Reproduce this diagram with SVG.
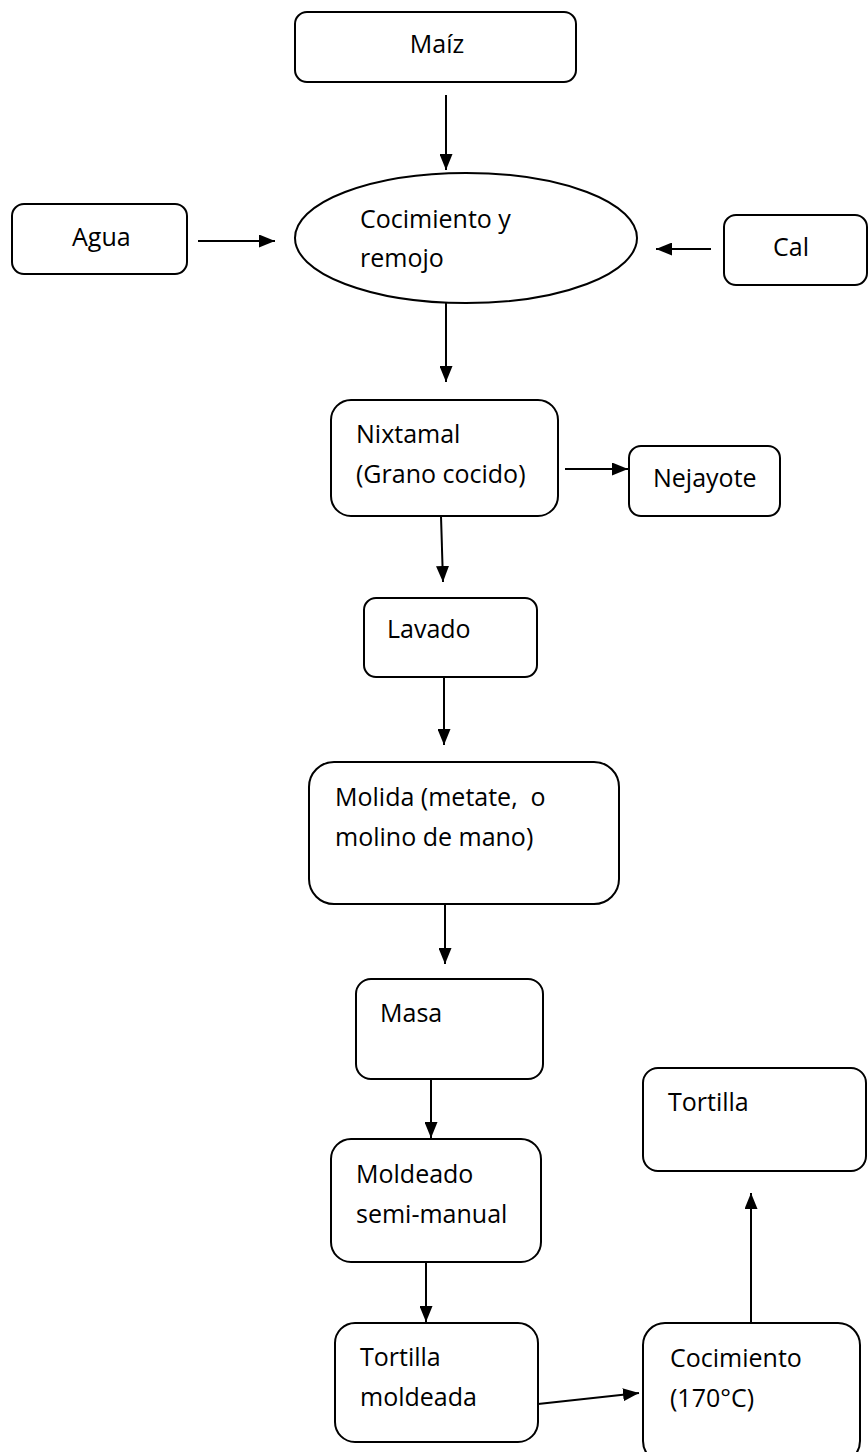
<svg xmlns="http://www.w3.org/2000/svg" width="868" height="1452" viewBox="0 0 868 1452">
<style>
.box{fill:#fff;stroke:#000;stroke-width:2}
.t{font-family:"Open Sans","Liberation Sans",sans-serif;font-size:25px;fill:#000}
.c{stroke:#000;stroke-width:2;fill:none;marker-end:url(#ah)}
</style>
<defs>
<marker id="ah" markerUnits="userSpaceOnUse" markerWidth="16" markerHeight="13" refX="16" refY="6.5" orient="auto">
<path d="M0,0 L16,6.5 L0,13 Z" fill="#000"/>
</marker>
</defs>
<rect width="868" height="1452" fill="#fff"/>
<g id="maiz"><rect class="box" x="295" y="12" width="281" height="70" rx="12"/><text class="t" x="437" y="53" text-anchor="middle">Maíz</text></g>
<g id="agua"><rect class="box" x="12" y="204" width="175" height="70" rx="12"/><text class="t" x="72" y="246">Agua</text></g>
<g id="cocimiento-remojo"><ellipse class="box" cx="466" cy="238" rx="171" ry="65"/><text class="t" x="360" y="228">Cocimiento y</text><text class="t" x="360" y="267">remojo</text></g>
<g id="cal"><rect class="box" x="724" y="215" width="143" height="70" rx="12"/><text class="t" x="773" y="256">Cal</text></g>
<g id="nixtamal"><rect class="box" x="331" y="400" width="227" height="116" rx="20"/><text class="t" x="356" y="443">Nixtamal</text><text class="t" x="356" y="483">(Grano cocido)</text></g>
<g id="nejayote"><rect class="box" x="629" y="446" width="151" height="70" rx="12"/><text class="t" x="653" y="487">Nejayote</text></g>
<g id="lavado"><rect class="box" x="364" y="598" width="173" height="79" rx="12"/><text class="t" x="387" y="638">Lavado</text></g>
<g id="molida"><rect class="box" x="309" y="762" width="310" height="142" rx="25"/><text class="t" x="335" y="806" xml:space="preserve">Molida (metate,  o</text><text class="t" x="335" y="846">molino de mano)</text></g>
<g id="masa"><rect class="box" x="356" y="979" width="187" height="100" rx="15"/><text class="t" x="380" y="1022">Masa</text></g>
<g id="tortilla"><rect class="box" x="643" y="1068" width="223" height="103" rx="15"/><text class="t" x="668" y="1111">Tortilla</text></g>
<g id="moldeado"><rect class="box" x="331" y="1139" width="210" height="123" rx="20"/><text class="t" x="356" y="1183">Moldeado</text><text class="t" x="356" y="1223">semi-manual</text></g>
<g id="tortilla-moldeada"><rect class="box" x="335" y="1323" width="203" height="119" rx="20"/><text class="t" x="360" y="1366">Tortilla</text><text class="t" x="360" y="1406">moldeada</text></g>
<g id="cocimiento-170"><rect class="box" x="643" y="1323" width="217" height="140" rx="22"/><text class="t" x="670" y="1367">Cocimiento</text><text class="t" x="670" y="1407">(170°C)</text></g>
<g id="connectors">
<line class="c" x1="446" y1="95" x2="446" y2="170"/>
<line class="c" x1="198" y1="241" x2="275" y2="241"/>
<line class="c" x1="711" y1="249" x2="656" y2="249"/>
<line class="c" x1="446" y1="303" x2="446" y2="382"/>
<line class="c" x1="565" y1="469" x2="628" y2="469"/>
<line class="c" x1="441" y1="516" x2="443" y2="582"/>
<line class="c" x1="444" y1="677" x2="444" y2="745"/>
<line class="c" x1="445" y1="904" x2="445" y2="964"/>
<line class="c" x1="431" y1="1079" x2="431" y2="1138"/>
<line class="c" x1="426" y1="1262" x2="426" y2="1322"/>
<line class="c" x1="538" y1="1404" x2="639" y2="1393"/>
<line class="c" x1="751" y1="1323" x2="751" y2="1193"/>
</g>
</svg>
